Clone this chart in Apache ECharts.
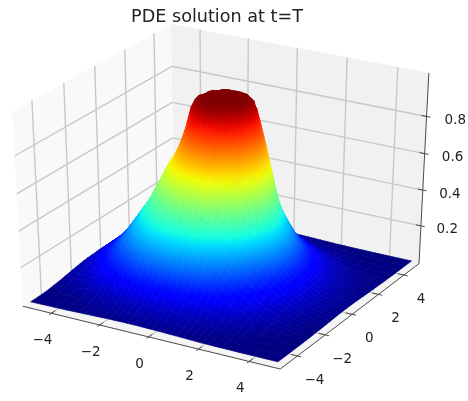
<!DOCTYPE html>
<html><head><meta charset="utf-8">
<style>html,body{margin:0;padding:0;background:#fff}#c{width:468px;height:401px;filter:blur(0.35px)}</style>
<script src="https://cdn.jsdelivr.net/npm/echarts@6/dist/echarts.min.js"></script>
</head><body><div id="c"></div>
<script>
const chartTitle = 'PDE solution at t=T';
const xTicks = [-4, -2, 0, 2, 4];
const yTicks = [-4, -2, 0, 2, 4];
const zTicks = [0.2, 0.4, 0.6, 0.8];
const gridX = [-5,-4.5,-4,-3.5,-3,-2.75,-2.5,-2.25,-2,-1.75,-1.5,-1.25,-1,-0.75,-0.5,-0.25,0,0.25,0.5,0.75,1,1.25,1.5,1.75,2,2.25,2.5,2.75,3,3.5,4,4.5,5];
const gridYHalf = [0,0.25,0.5,0.75,1,1.25,1.5,1.75,2,2.25,2.5,2.75,3,3.5,4,4.5,5];
// surface heights: one row per |y| in gridYHalf, one value per x in gridX
const zRows = [
[.05,.108,.17,.26,.37,.425,.5,.57,.64,.69,.765,.87,.985,1,1,1,1,1,1,1,.985,.87,.715,.55,.395,.315,.24,.19,.145,.088,.05,.027,.014],
[.05,.108,.17,.26,.37,.42,.49,.56,.63,.68,.755,.855,.975,1,1,1,1,1,1,1,.975,.855,.705,.54,.39,.313,.238,.188,.143,.086,.05,.027,.014],
[.05,.105,.165,.25,.357,.405,.475,.54,.61,.655,.725,.825,.95,.995,1,1,1,1,1,.995,.95,.8,.68,.51,.38,.305,.235,.18,.14,.085,.05,.027,.014],
[.048,.1,.16,.24,.342,.39,.44,.5,.565,.635,.705,.78,.87,.97,.995,1,1,1,.995,.97,.87,.745,.605,.445,.35,.285,.215,.168,.135,.082,.047,.026,.013],
[.047,.093,.15,.225,.325,.375,.43,.49,.555,.61,.66,.725,.785,.87,.95,.975,.985,.975,.95,.87,.785,.655,.52,.4,.325,.26,.203,.157,.128,.078,.045,.024,.012],
[.046,.088,.142,.21,.303,.347,.4,.445,.5,.565,.62,.66,.715,.77,.82,.855,.87,.855,.82,.75,.66,.56,.435,.357,.297,.233,.183,.148,.118,.073,.042,.022,.011],
[.044,.08,.13,.195,.278,.32,.365,.405,.45,.5,.555,.6,.635,.675,.71,.735,.74,.725,.685,.625,.545,.44,.375,.317,.255,.207,.165,.135,.108,.067,.038,.02,.01],
[.04,.073,.118,.175,.25,.29,.33,.365,.4,.44,.475,.52,.56,.585,.605,.62,.615,.595,.56,.495,.43,.375,.325,.275,.225,.18,.15,.122,.095,.06,.034,.018,.009],
[.036,.065,.105,.16,.223,.25,.293,.327,.357,.385,.415,.44,.46,.485,.495,.5,.49,.465,.44,.4,.36,.32,.278,.233,.195,.16,.133,.108,.086,.053,.03,.017,.008],
[.033,.058,.09,.14,.195,.22,.25,.287,.315,.337,.36,.375,.393,.405,.41,.408,.4,.385,.362,.335,.307,.27,.23,.19,.163,.14,.117,.093,.076,.046,.027,.015,.008],
[.028,.05,.08,.12,.17,.188,.215,.24,.268,.295,.313,.327,.337,.343,.345,.343,.335,.323,.307,.285,.25,.222,.195,.165,.143,.12,.097,.08,.066,.04,.025,.013,.007],
[.025,.042,.068,.098,.148,.158,.18,.203,.225,.245,.263,.278,.287,.293,.295,.29,.285,.27,.25,.233,.208,.185,.157,.142,.122,.1,.084,.07,.055,.033,.022,.012,.006],
[.02,.034,.055,.084,.125,.132,.15,.168,.185,.203,.217,.228,.235,.24,.24,.237,.23,.22,.205,.19,.17,.153,.137,.118,.098,.084,.072,.057,.045,.028,.018,.01,.006],
[.014,.02,.03,.046,.066,.074,.08,.095,.105,.115,.122,.128,.132,.135,.135,.132,.128,.122,.115,.107,.096,.086,.075,.066,.056,.047,.04,.032,.026,.017,.01,.007,.005],
[.008,.012,.016,.022,.03,.035,.04,.042,.048,.054,.058,.062,.065,.066,.067,.066,.065,.062,.058,.054,.05,.045,.04,.034,.029,.024,.02,.017,.014,.01,.007,.006,.005],
[.006,.008,.011,.014,.018,.02,.023,.025,.027,.03,.032,.033,.034,.035,.035,.035,.034,.033,.031,.029,.027,.024,.021,.018,.016,.014,.012,.011,.01,.008,.006,.005,.005],
[.005,.006,.007,.008,.01,.011,.012,.013,.014,.015,.015,.016,.016,.016,.016,.015,.015,.014,.013,.012,.011,.01,.009,.008,.007,.007,.006,.006,.006,.005,.005,.005,.005]
];

const LIM = {x:[-5.208,5.208], y:[-5.208,5.208], z:[-0.015,1.03]};
const VIEW = {u:[.8660,.5,0], v:[-.25,.4330,.8660], n:[.4330,-.75,.5], dist:10, sx:297.3, tx:223.9, sy:222.5, ty:190.6};
function project(x,y,z){
  const d=[(x-LIM.x[0])/(LIM.x[1]-LIM.x[0])-.5,(y-LIM.y[0])/(LIM.y[1]-LIM.y[0])-.5,(z-LIM.z[0])/(LIM.z[1]-LIM.z[0])-.5];
  const dot=a=>a[0]*d[0]+a[1]*d[1]+a[2]*d[2];
  const w=1-dot(VIEW.n)/VIEW.dist;
  return [VIEW.tx+VIEW.sx*dot(VIEW.u)/w, VIEW.ty-VIEW.sy*dot(VIEW.v)/w];
}
function jet(t){
  t=Math.max(0,Math.min(1,t));
  const seg=(p,a)=>{for(let i=1;i<p.length;i++){if(t<=p[i]){return a[i-1]+(a[i]-a[i-1])*(t-p[i-1])/(p[i]-p[i-1]);}}return a[a.length-1];};
  const hex=v=>('0'+Math.round(v*255).toString(16)).slice(-2);
  return '#'+hex(seg([0,.35,.66,.89,1],[0,0,1,1,.5]))+hex(seg([0,.125,.375,.64,.91,1],[0,0,1,1,0,0]))+hex(seg([0,.11,.34,.65,1],[.5,1,1,0,0]));
}
const gridY = gridYHalf.slice(1).reverse().map(v=>-v).concat(gridYHalf);
const zFull = zRows.slice(1).reverse().concat(zRows);
let zMin=Infinity,zMax=-Infinity; zFull.forEach(r=>r.forEach(v=>{zMin=Math.min(zMin,v);zMax=Math.max(zMax,v);}));

const [xl,xh]=LIM.x,[yl,yh]=LIM.y,[zl,zh]=LIM.z;
const panes=[
 {pts:[[xl,yl,zl],[xl,yh,zl],[xl,yh,zh],[xl,yl,zh]],c:'#f9f9f9'},
 {pts:[[xl,yh,zl],[xh,yh,zl],[xh,yh,zh],[xl,yh,zh]],c:'#f1f1f1'},
 {pts:[[xl,yl,zl],[xh,yl,zl],[xh,yh,zl],[xl,yh,zl]],c:'#f5f5f5'}
];
const gridCol='#c8c8c8', axisCol='#4a4a4a';
const lines=[];
xTicks.forEach(v=>{lines.push({a:[v,yl,zl],b:[v,yh,zl],c:gridCol,w:1.2});lines.push({a:[v,yh,zl],b:[v,yh,zh],c:gridCol,w:1.4});});
yTicks.forEach(v=>{lines.push({a:[xl,v,zl],b:[xh,v,zl],c:gridCol,w:1.2});lines.push({a:[xl,v,zl],b:[xl,v,zh],c:gridCol,w:1.4});});
zTicks.forEach(v=>{lines.push({a:[xl,yl,v],b:[xl,yh,v],c:gridCol,w:1.4});lines.push({a:[xl,yh,v],b:[xh,yh,v],c:gridCol,w:1.4});});
lines.push({a:[xl,yl,zl],b:[xh,yl,zl],c:axisCol,w:1});
lines.push({a:[xh,yl,zl],b:[xh,yh,zl],c:axisCol,w:1});
lines.push({a:[xh,yh,zl],b:[xh,yh,zh],c:axisCol,w:1});
xTicks.forEach(v=>lines.push({a:[v,yl-.15,zl],b:[v,yl+.25,zl],c:axisCol,w:1}));
yTicks.forEach(v=>lines.push({a:[xh-.25,v,zl],b:[xh+.15,v,zl],c:axisCol,w:1}));
zTicks.forEach(v=>lines.push({a:[xh-.2,yh,v],b:[xh+.15,yh,v],c:axisCol,w:1}));

const labels=[];
const fmt=v=>v<0?'\u2212'+(-v):String(v);
xTicks.forEach(v=>{const p=project(v,yl,zl);labels.push({x:p[0]-9,y:p[1]+27.5,t:fmt(v)});});
yTicks.forEach(v=>{const p=project(xh,v,zl);labels.push({x:p[0]+17,y:p[1]+24.5,t:fmt(v)});});
zTicks.forEach(v=>{const p=project(xh,yh,v);labels.push({x:p[0]+25.5+4*v,y:p[1]+4,t:v.toFixed(1)});});

// back-to-front order for a height field seen from +x, -y
const quads=[];
for(let j=gridY.length-2;j>=0;j--){
  for(let i=0;i<gridX.length-1;i++){
    quads.push([[i,j],[i+1,j],[i+1,j+1],[i,j+1]].map(q=>[gridX[q[0]],gridY[q[1]],zFull[q[1]][q[0]]]));
  }
}
// paint a facet with the colormap running along its steepest screen direction, so colour follows height
function facetPaint(scr,zs){
  const n=4, mx=scr.reduce((a,p)=>a+p[0],0)/n, my=scr.reduce((a,p)=>a+p[1],0)/n, mz=(zs[0]+zs[1]+zs[2]+zs[3])/n;
  let sxx=0,sxy=0,syy=0,sxz=0,syz=0;
  scr.forEach((p,k)=>{const dx=p[0]-mx,dy=p[1]-my,dz=zs[k]-mz;sxx+=dx*dx;sxy+=dx*dy;syy+=dy*dy;sxz+=dx*dz;syz+=dy*dz;});
  const det=sxx*syy-sxy*sxy, norm=z=>(z-zMin)/(zMax-zMin);
  if(Math.abs(det)<1e-6) return jet(norm(mz));
  const gx=(syy*sxz-sxy*syz)/det, gy=(sxx*syz-sxy*sxz)/det, g2=gx*gx+gy*gy;
  if(g2<1e-12) return jet(norm(mz));
  let lo=Infinity,hi=-Infinity;
  scr.forEach(p=>{const t=(p[0]-mx)*gx+(p[1]-my)*gy;lo=Math.min(lo,t);hi=Math.max(hi,t);});
  const stops=[0,.25,.5,.75,1].map(o=>({offset:o,color:jet(norm(mz+lo+(hi-lo)*o))}));
  return {type:'linear',global:true,x:mx+gx*lo/g2,y:my+gy*lo/g2,x2:mx+gx*hi/g2,y2:my+gy*hi/g2,colorStops:stops};
}
const toCoord=(api,p)=>api.coord(project(p[0],p[1],p[2]));
const chart=echarts.init(document.getElementById('c'),null,{renderer:'canvas'});
const base={type:'custom',coordinateSystem:'cartesian2d',clip:false,silent:true,animation:false,progressive:0};
chart.setOption({
  animation:false,
  backgroundColor:'#fff',
  title:{text:chartTitle,left:217,top:8,padding:0,textAlign:'center',textStyle:{fontFamily:'DejaVu Sans',fontSize:17.6,fontWeight:'normal',color:'#222'}},
  grid:{left:0,right:0,top:0,bottom:0},
  xAxis:{type:'value',min:0,max:468,show:false},
  yAxis:{type:'value',min:0,max:401,inverse:true,show:false},
  series:[
   Object.assign({},base,{data:panes.map((_,i)=>[i]),encode:{x:0,y:0},z:1,renderItem:(p,api)=>{const m=panes[api.value(0)];
     return {type:'polygon',shape:{points:m.pts.map(q=>toCoord(api,q))},style:{fill:m.c,stroke:null}};}}),
   Object.assign({},base,{data:lines.map((_,i)=>[i]),encode:{x:0,y:0},z:2,renderItem:(p,api)=>{const m=lines[api.value(0)];const a=toCoord(api,m.a),b=toCoord(api,m.b);
     return {type:'line',shape:{x1:a[0],y1:a[1],x2:b[0],y2:b[1]},style:{stroke:m.c,lineWidth:m.w,fill:null}};}}),
   Object.assign({},base,{data:labels.map((_,i)=>[i]),encode:{x:0,y:0},z:3,renderItem:(p,api)=>{const m=labels[api.value(0)];const c=api.coord([m.x,m.y]);
     return {type:'text',x:c[0],y:c[1],style:{text:m.t,fill:'#222',font:'13.5px "DejaVu Sans"',align:'center',verticalAlign:'middle'}};}}),
   Object.assign({},base,{data:quads.map((_,i)=>[i]),encode:{x:0,y:0},z:4,renderItem:(p,api)=>{const idx=api.value(0);const m=quads[idx];
     const scr=m.map(q=>toCoord(api,q));const paint=facetPaint(scr,m.map(q=>q[2]));
     return {type:'polygon',z2:idx,shape:{points:scr},style:{fill:paint,stroke:paint,lineWidth:.7}};}})
  ]
});
</script></body></html>
